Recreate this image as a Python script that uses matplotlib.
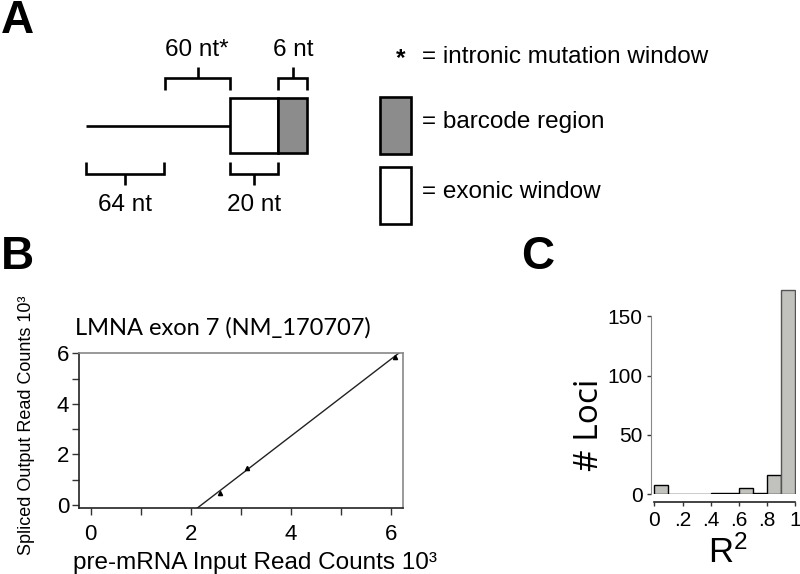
import matplotlib
matplotlib.use("Agg")
import matplotlib.pyplot as plt
from matplotlib.patches import Rectangle
import numpy as np

plt.rcParams['font.family'] = ['Liberation Sans', 'DejaVu Sans']
plt.rcParams['mathtext.fontset'] = 'custom'
plt.rcParams['mathtext.rm'] = 'Liberation Sans'
plt.rcParams['mathtext.it'] = 'Liberation Sans'
plt.rcParams['mathtext.default'] = 'rm'

# ---------------- data ----------------
# Panel B: pre-mRNA input vs spliced output (10^3 read counts)
b_input = [2.59, 3.12, 6.08]
b_output = [0.49, 1.48, 5.87]
b_title = "LMNA exon 7 (NM_170707)"
b_xticks = [0, 2, 4, 6]
b_yticks = [0, 2, 4, 6]

# Panel C: histogram of R^2 across loci
c_bin_edges = [0.0, 0.1, 0.2, 0.3, 0.4, 0.5, 0.6, 0.7, 0.8, 0.9, 1.0]
c_counts = [8, 0, 0, 0, 1, 1, 5, 1, 16, 172]
c_xticks = [0, 0.2, 0.4, 0.6, 0.8, 1.0]
c_xticklabels = ["0", ".2", ".4", ".6", ".8", "1"]
c_yticks = [0, 50, 100, 150]

# Panel A: schematic (segment labels)
a_labels_top = ["60 nt*", "6 nt"]
a_labels_bottom = ["64 nt", "20 nt"]
a_legend = ["= intronic mutation window", "= barcode region", "= exonic window"]

# ---------------- figure ----------------
fig = plt.figure(figsize=(8.0, 5.74), dpi=100)

# overlay axes in pixel coordinates for schematic / labels
ax0 = fig.add_axes([0, 0, 1, 1])
ax0.set_xlim(0, 800)
ax0.set_ylim(574, 0)
ax0.axis('off')

K = 'black'
LW = 1.9
FS_A = 17.5

# panel letters
for letter, (x, y) in zip("ABC", [(17, 21), (17, 257), (538, 257)]):
    ax0.text(x, y, letter, fontsize=33, fontweight='bold', ha='center', va='center')

# intron line
ax0.plot([86, 230], [125.7, 125.7], color=K, lw=LW, solid_capstyle='butt')
# exon & barcode boxes
ax0.add_patch(Rectangle((230, 98.3), 48.3, 55, facecolor='white', edgecolor=K, lw=LW))
ax0.add_patch(Rectangle((278.3, 98.3), 29, 55, facecolor='#8c8c8c', edgecolor=K, lw=LW))


def bracket(x0, x1, yh, yleg, ytick):
    xm = (x0 + x1) / 2
    ax0.plot([x0, x0, x1, x1], [yleg, yh, yh, yleg], color=K, lw=LW,
             solid_joinstyle='miter', solid_capstyle='butt')
    ax0.plot([xm, xm], [yh, ytick], color=K, lw=LW, solid_capstyle='butt')


bracket(165, 230, 77.7, 90, 66.7)
bracket(278.3, 307.3, 77.7, 90, 66.7)
bracket(86, 164, 174, 161.7, 185)
bracket(230, 278.3, 174, 161.7, 185)

ax0.text(196.7, 50, a_labels_top[0], fontsize=FS_A, ha='center', va='center')
ax0.text(292.8, 50, a_labels_top[1], fontsize=FS_A, ha='center', va='center')
ax0.text(125, 205, a_labels_bottom[0], fontsize=FS_A, ha='center', va='center')
ax0.text(254, 205, a_labels_bottom[1], fontsize=FS_A, ha='center', va='center')

# legend of panel A
ax0.text(401, 59, "*", fontsize=FS_A, fontweight='bold', ha='center', va='center')
ax0.text(421.7, 56.7, a_legend[0], fontsize=FS_A, ha='left', va='center')
ax0.add_patch(Rectangle((380, 97.3), 30.7, 56.7, facecolor='#8c8c8c', edgecolor=K, lw=LW))
ax0.text(421.7, 121.7, a_legend[1], fontsize=FS_A, ha='left', va='center')
ax0.add_patch(Rectangle((380, 167.3), 30.7, 56.7, facecolor='white', edgecolor=K, lw=LW))
ax0.text(421.7, 191.7, a_legend[2], fontsize=FS_A, ha='left', va='center')

# ---------------- panel B ----------------
axB = fig.add_axes([0.09875, 0.11446, 0.4054, 0.2700])
axB.set_xlim(-0.23, 6.25)
axB.set_ylim(-0.13, 6.0)
slope, intercept = np.polyfit(b_input, b_output, 1)
xs = np.array([1.5, 6.6])
axB.plot(xs, slope * xs + intercept, color='#222222', lw=1.0)
axB.plot(b_input, b_output, linestyle='none', marker='^', ms=3, color='black')
axB.set_xticks(b_xticks)
axB.set_yticks(b_yticks)
axB.set_xticks([1, 3, 5], minor=True)
axB.set_yticks([1, 3, 5], minor=True)
axB.tick_params(which='both', direction='out', length=5, width=1, labelsize=16, color='#333333')
axB.tick_params(axis='x', pad=6)
axB.tick_params(axis='y', pad=2)
for side in ['left', 'bottom']:
    axB.spines[side].set_color('#222222')
    axB.spines[side].set_linewidth(1.2)
for side in ['top', 'right']:
    axB.spines[side].set_color('#888888')
    axB.spines[side].set_linewidth(1.2)

ax0.text(75, 335, b_title, fontsize=17, family=['Lato', 'Open Sans'], ha='left', va='baseline')
ax0.text(73, 563, "pre-mRNA Input Read Counts 10³", fontsize=17.5, ha='left', va='center')
ax0.text(27, 425, "Spliced Output Read Counts 10³", fontsize=13, rotation=90,
         ha='center', va='center')

# ---------------- panel C ----------------
axC = fig.add_axes([0.8134, 0.1389, 0.181, 0.3618])
axC.set_xlim(-0.026, 1.003)
axC.set_ylim(0, 175)
edges = np.array(c_bin_edges)
widths = np.diff(edges)
bars = axC.bar(edges[:-1], c_counts, width=widths, align='edge',
               facecolor='#c1c2bd', edgecolor='black', lw=1.0)
bars[-1].set_edgecolor('#555555')
axC.set_xticks(c_xticks)
axC.set_xticklabels(c_xticklabels)
axC.set_yticks(c_yticks)
axC.tick_params(which='both', direction='out', length=3, width=1, labelsize=15, color='#333333')
axC.tick_params(axis='y', pad=3)
axC.tick_params(axis='x', pad=3)
axC.spines['top'].set_visible(False)
axC.spines['right'].set_visible(False)
axC.spines['left'].set_bounds(0, 150)
axC.spines['left'].set_color('#888888')
axC.spines['bottom'].set_bounds(0, 1)
axC.spines['bottom'].set_position(('outward', 5.8))
axC.spines['bottom'].set_color('#222222')
axC.spines['bottom'].set_linewidth(1.2)

ax0.text(590, 425, "# Loci", fontsize=24, family='Open Sans', rotation=90,
         ha='center', va='center')
ax0.text(728, 553, r"R$^{2}$", fontsize=25, ha='center', va='center')

fig.savefig("out.png", dpi=100)
